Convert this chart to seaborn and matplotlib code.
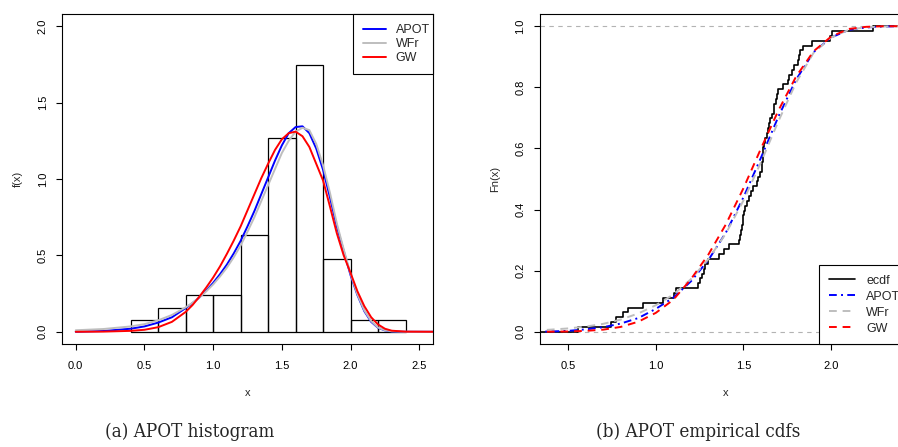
import numpy as np
import pandas as pd
import matplotlib
matplotlib.use("Agg")
import matplotlib.pyplot as plt
import seaborn as sns

# ---------------- data ----------------
sample = [
    0.553,
    0.744, 0.770,
    0.810, 0.843, 0.928,
    1.043, 1.105, 1.115,
    1.242, 1.252, 1.262, 1.272, 1.283, 1.295, 1.362, 1.390,
    1.419, 1.477, 1.480, 1.486, 1.490, 1.495, 1.500, 1.505, 1.510, 1.520,
    1.530, 1.545, 1.555, 1.575, 1.585, 1.595,
    1.604, 1.607, 1.609, 1.611, 1.613, 1.616, 1.625, 1.635, 1.642, 1.648,
    1.652, 1.665, 1.672, 1.676, 1.683, 1.692, 1.699, 1.727, 1.755, 1.762,
    1.775, 1.790,
    1.810, 1.817, 1.825, 1.838, 1.889, 1.995,
    2.008,
    2.241,
]
bin_edges = [0.4, 0.6, 0.8, 1.0, 1.2, 1.4, 1.6, 1.8, 2.0, 2.2, 2.4]

pdf_x = [0.0, 0.2, 0.4, 0.5, 0.6, 0.7, 0.8, 0.85, 0.9, 0.95, 1.0, 1.05, 1.1,
         1.15, 1.2, 1.25, 1.3, 1.35, 1.4, 1.45, 1.5, 1.55, 1.6, 1.65, 1.7,
         1.75, 1.8, 1.85, 1.9, 1.95, 2.0, 2.05, 2.1, 2.15, 2.2, 2.25, 2.3,
         2.4, 2.6]
apot_pdf = [0.000, 0.005, 0.020, 0.035, 0.060, 0.095, 0.155, 0.188, 0.225,
            0.270, 0.320, 0.377, 0.440, 0.513, 0.595, 0.690, 0.790, 0.900,
            1.010, 1.120, 1.220, 1.300, 1.340, 1.345, 1.300, 1.200, 1.060,
            0.880, 0.690, 0.530, 0.370, 0.240, 0.135, 0.065, 0.026, 0.009,
            0.002, 0.000, 0.000]
wfr_pdf = [0.010, 0.018, 0.035, 0.050, 0.075, 0.110, 0.160, 0.190, 0.225,
           0.265, 0.310, 0.362, 0.420, 0.488, 0.565, 0.655, 0.750, 0.855,
           0.960, 1.065, 1.170, 1.250, 1.310, 1.335, 1.320, 1.230, 1.090,
           0.910, 0.710, 0.540, 0.380, 0.245, 0.140, 0.070, 0.028, 0.010,
           0.003, 0.000, 0.000]
gw_pdf = [0.000, 0.001, 0.006, 0.013, 0.030, 0.065, 0.130, 0.175, 0.230,
          0.290, 0.355, 0.428, 0.510, 0.597, 0.690, 0.795, 0.900, 1.005,
          1.100, 1.190, 1.260, 1.300, 1.310, 1.280, 1.210, 1.100, 0.990,
          0.820, 0.645, 0.500, 0.385, 0.265, 0.168, 0.095, 0.048, 0.020,
          0.007, 0.001, 0.000]

cdf_x = [0.3, 0.4, 0.5, 0.6, 0.7, 0.8, 0.9, 1.0, 1.1, 1.2, 1.3, 1.4, 1.5,
         1.6, 1.7, 1.8, 1.9, 2.0, 2.1, 2.2, 2.3, 2.4, 2.5]
apot_cdf = [0.000, 0.001, 0.003, 0.008, 0.015, 0.027, 0.045, 0.075, 0.112,
            0.165, 0.235, 0.325, 0.440, 0.570, 0.705, 0.825, 0.915, 0.963,
            0.988, 0.996, 0.999, 1.000, 1.000]
wfr_cdf = [0.004, 0.007, 0.011, 0.017, 0.026, 0.040, 0.060, 0.087, 0.122,
           0.172, 0.238, 0.322, 0.430, 0.555, 0.690, 0.815, 0.913, 0.963,
           0.988, 0.997, 0.999, 1.000, 1.000]
gw_cdf = [0.000, 0.0003, 0.001, 0.003, 0.007, 0.016, 0.033, 0.062, 0.105,
          0.172, 0.253, 0.352, 0.470, 0.600, 0.725, 0.835, 0.918, 0.966,
          0.991, 0.998, 1.000, 1.000, 1.000]

model_names = ["APOT", "WFr", "GW"]
model_colors = ["#0000FF", "#BEBEBE", "#FF0000"]
captions = ["(a) APOT histogram", "(b) APOT empirical cdfs"]

# ---------------- style ----------------
sns.set_theme(style="ticks")
plt.rcParams["font.family"] = ["Liberation Sans", "DejaVu Sans"]
plt.rcParams["axes.edgecolor"] = "black"
plt.rcParams["axes.linewidth"] = 0.8

W, H = 898, 447
fig = plt.figure(figsize=(W / 100, H / 100), dpi=100)
fig.patch.set_facecolor("white")


def px_axes(l, t, r, b):
    return fig.add_axes([l / W, 1 - b / H, (r - l) / W, (b - t) / H])


ax1 = px_axes(62, 14, 433, 344)
ax2 = px_axes(539.7, 14, 910.8, 344)

X1LIM = (-0.1, 2.6)
X2LIM = (0.337, 2.455)

# ---------------- (a) histogram + densities ----------------
sns.histplot(x=sample, bins=bin_edges, stat="density", fill=False,
             color="black", linewidth=0.9, ax=ax1)
for name, col, vals in zip(model_names, model_colors,
                           [apot_pdf, wfr_pdf, gw_pdf]):
    sns.lineplot(x=pdf_x, y=vals, color=col, lw=1.4, label=name, ax=ax1)

ax1.set_xlim(*X1LIM)
ax1.set_ylim(-0.08, 2.08)
ax1.set_xticks([0.0, 0.5, 1.0, 1.5, 2.0, 2.5])
ax1.set_yticks([0.0, 0.5, 1.0, 1.5, 2.0])
ax1.set_xticklabels(["0.0", "0.5", "1.0", "1.5", "2.0", "2.5"])
ax1.set_yticklabels(["0.0", "0.5", "1.0", "1.5", "2.0"])
ax1.set_xlabel("x")
ax1.set_ylabel("f(x)")

# ---------------- (b) ecdf + model cdfs ----------------
ax2.axhline(0, color="#B3B3B3", lw=0.8, ls=(0, (4, 4)), zorder=1)
ax2.axhline(1, color="#B3B3B3", lw=0.8, ls=(0, (4, 4)), zorder=1)
sns.ecdfplot(x=sample, color="black", lw=1.2, label="ecdf", ax=ax2)
ax2.hlines(0, X2LIM[0], min(sample), color="black", lw=1.2)
ax2.hlines(1, max(sample), X2LIM[1], color="black", lw=1.2)
styles = [(0, (4, 2.2, 1, 2.2)), (0, (4, 3)), (0, (4, 3))]
for name, col, vals, ls in zip(model_names, model_colors,
                               [apot_cdf, wfr_cdf, gw_cdf], styles):
    sns.lineplot(x=cdf_x, y=vals, color=col, lw=1.4, linestyle=ls,
                 label=name, ax=ax2)

ax2.set_xlim(*X2LIM)
ax2.set_ylim(-0.04, 1.04)
ax2.set_xticks([0.5, 1.0, 1.5, 2.0])
ax2.set_xticklabels(["0.5", "1.0", "1.5", "2.0"])
ax2.set_yticks([0.0, 0.2, 0.4, 0.6, 0.8, 1.0])
ax2.set_yticklabels(["0.0", "0.2", "0.4", "0.6", "0.8", "1.0"])
ax2.set_xlabel("x")
ax2.set_ylabel("Fn(x)")

# ---------------- common axis styling ----------------
for ax in (ax1, ax2):
    for sp in ax.spines.values():
        sp.set_visible(True)
        sp.set_color("black")
        sp.set_linewidth(0.8)
    ax.tick_params(direction="out", length=4.3, width=0.8, colors="black",
                   labelsize=8)
    ax.tick_params(axis="x", pad=8.0)
    ax.tick_params(axis="y", pad=6.0, labelrotation=90)
    for lbl in ax.get_yticklabels():
        lbl.set_verticalalignment("center")
    ax.xaxis.label.set_fontsize(8)
    ax.yaxis.label.set_fontsize(8)
    ax.xaxis.set_label_coords(0.5, -0.1476)
    ax.xaxis.label.set_verticalalignment("center")
    ax.yaxis.label.set_verticalalignment("center")
    ax.set_facecolor("white")

ax1.yaxis.set_label_coords(-0.118, 0.5)
ax2.yaxis.set_label_coords(-0.121, 0.5)

# ---------------- legends ----------------
leg1 = ax1.legend(loc="upper left", bbox_to_anchor=(0.7844, 0, 0.2156, 1.0),
                  mode="expand", borderaxespad=0, fontsize=9,
                  handlelength=1.8, handletextpad=0.8, labelspacing=0.17,
                  borderpad=0.8, fancybox=False, framealpha=1,
                  edgecolor="black")
leg1.get_frame().set_linewidth(0.8)

leg2 = ax2.legend(loc="lower left", bbox_to_anchor=(0.7534, 0, 0.2466, 1.0),
                  mode="expand", borderaxespad=0, fontsize=9,
                  handlelength=2.1, handletextpad=0.9, labelspacing=0.32,
                  borderpad=0.75, fancybox=False, framealpha=1,
                  edgecolor="black")
leg2.get_frame().set_linewidth(0.8)

# ---------------- captions ----------------
fig.text(190 / W, 1 - 432 / H, captions[0], ha="center", va="center",
         fontsize=13.5, family="DejaVu Serif", fontstretch="condensed")
fig.text(698 / W, 1 - 432 / H, captions[1], ha="center", va="center",
         fontsize=13.5, family="DejaVu Serif", fontstretch="condensed")

fig.savefig("out.png", dpi=100, facecolor="white")
